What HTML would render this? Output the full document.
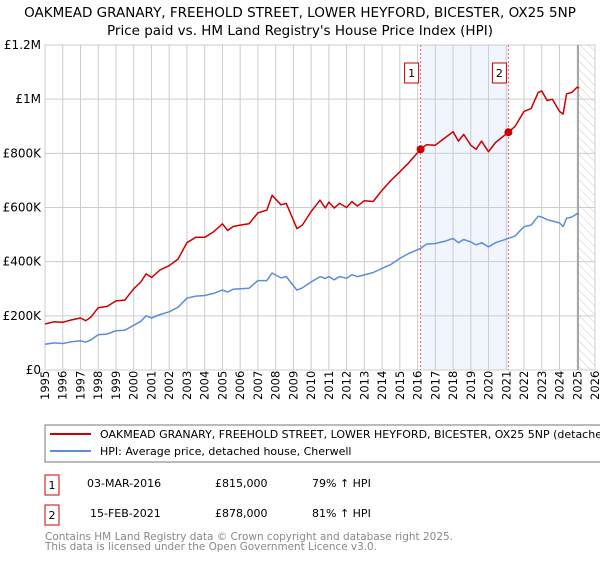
<!DOCTYPE html>
<html><head><meta charset="utf-8"><style>
body{margin:0;background:#fff;font-family:"DejaVu Sans","Liberation Sans",sans-serif;}
svg text{font-family:"DejaVu Sans","Liberation Sans",sans-serif;}
</style></head><body>
<svg id="c" width="600" height="560" xmlns="http://www.w3.org/2000/svg">
<defs><pattern id="hatch" width="6" height="6" patternUnits="userSpaceOnUse" patternTransform="rotate(-45)"><line x1="0" y1="0" x2="0" y2="6" stroke="#ccc" stroke-width="1"/></pattern></defs>
<text x="300" y="17" text-anchor="middle" font-size="13.5">OAKMEAD GRANARY, FREEHOLD STREET, LOWER HEYFORD, BICESTER, OX25 5NP</text>
<text x="300" y="35" text-anchor="middle" font-size="13.5">Price paid vs. HM Land Registry's House Price Index (HPI)</text>
<g id="grid"></g><g id="marks"></g>
<rect x="45" y="425" width="580" height="37" fill="#fff" stroke="#777"/>
<line x1="50" y1="434" x2="91" y2="434" stroke="#cc0000" stroke-width="2"/>
<text x="100" y="438" font-size="11">OAKMEAD GRANARY, FREEHOLD STREET, LOWER HEYFORD, BICESTER, OX25 5NP (detached house)</text>
<line x1="50" y1="451" x2="91" y2="451" stroke="#5b8ed6" stroke-width="2"/>
<text x="100" y="455" font-size="11">HPI: Average price, detached house, Cherwell</text>
<rect x="45" y="475" width="14" height="20" fill="#fff" stroke="#cc0000"/>
<text x="52" y="489" font-size="11" text-anchor="middle">1</text>
<text x="87" y="487" font-size="11">03-MAR-2016</text>
<text x="215" y="487" font-size="11">£815,000</text>
<text x="312" y="487" font-size="11">79% ↑ HPI</text>
<rect x="45" y="505" width="14" height="20" fill="#fff" stroke="#cc0000"/>
<text x="52" y="519" font-size="11" text-anchor="middle">2</text>
<text x="90" y="517" font-size="11">15-FEB-2021</text>
<text x="215" y="517" font-size="11">£878,000</text>
<text x="312" y="517" font-size="11">81% ↑ HPI</text>
<text x="45" y="540" font-size="11" fill="#888" textLength="408" lengthAdjust="spacingAndGlyphs">Contains HM Land Registry data © Crown copyright and database right 2025.</text>
<text x="45" y="550" font-size="11" fill="#888" textLength="332" lengthAdjust="spacingAndGlyphs">This data is licensed under the Open Government Licence v3.0.</text>
</svg>
<script>
const years=[1995,1996,1997,1998,1999,2000,2001,2002,2003,2004,2005,2006,2007,2008,2009,2010,2011,2012,2013,2014,2015,2016,2017,2018,2019,2020,2021,2022,2023,2024,2025,2026];
const yTicks=[0,200000,400000,600000,800000,1000000,1200000];
const yTickLabels=["£0","£200K","£400K","£600K","£800K","£1M","£1.2M"];
const dates=[1995,1995.5,1996,1996.5,1997,1997.3,1997.6,1998,1998.5,1999,1999.5,2000,2000.4,2000.7,2001,2001.5,2002,2002.5,2003,2003.5,2004,2004.5,2005,2005.3,2005.6,2006,2006.5,2007,2007.5,2007.8,2008.3,2008.6,2009.2,2009.5,2010,2010.5,2010.8,2011,2011.3,2011.6,2012,2012.3,2012.6,2013,2013.5,2014,2014.5,2015,2015.5,2016.17,2016.5,2017,2017.5,2018,2018.3,2018.6,2019,2019.3,2019.6,2020,2020.4,2021.12,2021.5,2022,2022.4,2022.8,2023,2023.3,2023.6,2024,2024.2,2024.4,2024.7,2025,2025.1];
const propVals=[170000,178000,176000,185000,192000,182000,196000,230000,235000,255000,258000,300000,325000,355000,342000,370000,385000,410000,470000,490000,490000,510000,540000,515000,530000,535000,540000,580000,590000,645000,610000,615000,522000,535000,585000,627000,598000,620000,598000,615000,600000,622000,605000,625000,622000,664000,700000,732000,765000,815000,832000,830000,855000,880000,845000,870000,830000,815000,845000,806000,840000,878000,900000,955000,965000,1025000,1030000,995000,1000000,955000,945000,1020000,1025000,1045000,1040000];
const hpiVals=[95000,100000,98000,104000,108000,103000,112000,130000,133000,145000,147000,165000,180000,200000,192000,205000,215000,232000,265000,273000,275000,283000,295000,288000,298000,300000,302000,330000,330000,358000,340000,345000,295000,303000,325000,345000,338000,345000,333000,345000,339000,352000,345000,351000,360000,375000,390000,412000,430000,449000,465000,467000,475000,486000,470000,482000,473000,462000,470000,455000,470000,486000,495000,529000,535000,568000,565000,555000,550000,543000,530000,560000,565000,578000,575000];
const X0=45,X1=595,Y0=370,Y1=45;
const xs=y=>X0+(y-1995)/(2026-1995)*(X1-X0);
const ys=v=>Y0-v/1200000*(Y0-Y1);
const NS="http://www.w3.org/2000/svg";
function mk(p,t,a){const e=document.createElementNS(NS,t);for(const k in a)e.setAttribute(k,a[k]);p.appendChild(e);return e;}
const g=document.getElementById('grid'),m=document.getElementById('marks');
let r=mk(g,'rect',{x:X0,y:Y1,width:X1-X0,height:Y0-Y1,fill:'#fff'});


r=mk(g,'rect',{x:xs(2016.17),y:Y1,width:xs(2021.12)-xs(2016.17),height:Y0-Y1,fill:'#eef3fc',opacity:0.8});


r=mk(g,'rect',{x:xs(2025.05),y:Y1,width:X1-xs(2025.05),height:Y0-Y1,fill:'url(#hatch)'});


years.forEach(y=>{const l=mk(g,'line',{x1:xs(y),x2:xs(y),y1:Y1,y2:Y0,stroke:'#ccc'});


const t=mk(g,'text',{x:0,y:0,'font-size':11.5,transform:`translate(${xs(y)+4},${Y0+30}) rotate(-90)`});t.textContent=y;

});
yTicks.forEach((v,i)=>{const l=mk(g,'line',{x1:X0,x2:X1,y1:ys(v),y2:ys(v),stroke:'#ccc'});


const t=mk(g,'text',{x:X0-4,y:ys(v)+4,'font-size':12,'text-anchor':'end'});t.textContent=yTickLabels[i];

});
r=mk(g,'line',{x1:xs(2025.05),x2:xs(2025.05),y1:Y1,y2:Y0,stroke:'#999','stroke-width':1.5});


[2016.17,2021.12].forEach((d,i)=>{const l=mk(m,'line',{x1:xs(d),x2:xs(d),y1:Y1,y2:Y0,stroke:'#e66','stroke-dasharray':'2,2'});


const b=mk(m,'rect',{x:xs(d)-16,y:63,width:14,height:20,fill:'#fff',stroke:'#cc0000'});


const t=mk(m,'text',{x:xs(d)-9,y:77,'font-size':11,'text-anchor':'middle'});t.textContent=i+1;

});
function path(vals,c,n){const p=mk(m,'path',{d:vals.map((v,i)=>(i?'L':'M')+xs(dates[i]).toFixed(1)+','+ys(v).toFixed(1)).join(''),fill:'none',stroke:c,'stroke-width':1.5,'stroke-linejoin':'round'});

}
path(hpiVals,'#5b8ed6','hpi-line');
path(propVals,'#cc0000','property-price-line');
[[2016.17,815000],[2021.12,878000]].forEach(([d,v])=>{const c=mk(m,'circle',{cx:xs(d),cy:ys(v),r:4,fill:'#cc0000'});

});
</script>
</body></html>
